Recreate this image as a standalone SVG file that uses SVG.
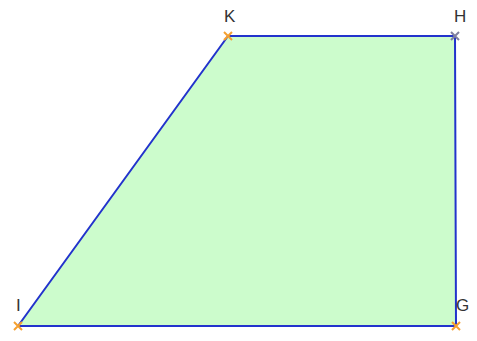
<svg xmlns="http://www.w3.org/2000/svg" width="477" height="341" viewBox="0 0 477 341">
<style>
.lbl{font-family:"Liberation Sans",Arial,sans-serif;font-size:17px;fill:#333}
.x{stroke:#f5a030;stroke-width:2}
</style>
<rect width="477" height="341" fill="#fff"/>
<g id="connectors">
<polygon points="228,36 455,36 456,326 18,326" fill="#ccfccc" stroke="#2233cc" stroke-width="2" stroke-linejoin="round"/>
</g>
<g id="K"><path class="x" d="M224,32l8,8M224,40l8,-8"/><text class="lbl" x="224" y="22">K</text></g>
<g id="H"><path class="x" style="stroke:#8080a0" d="M451,32l8,8M451,40l8,-8"/><text class="lbl" x="454" y="22">H</text></g>
<g id="G"><path class="x" d="M452,322l8,8M452,330l8,-8"/><text class="lbl" x="456" y="311">G</text></g>
<g id="I"><path class="x" d="M14,322l8,8M14,330l8,-8"/><text class="lbl" x="16" y="311">I</text></g>
</svg>
